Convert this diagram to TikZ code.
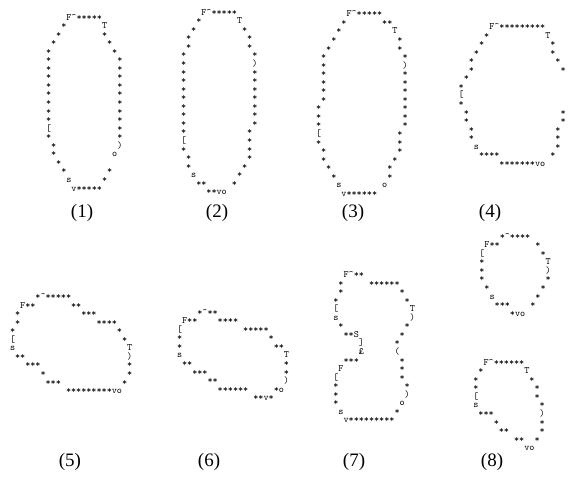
\documentclass[tikz,border=0pt]{standalone}
\usepackage{fontspec}
\setmainfont{Liberation Serif}
\newcommand\caret{\textasciicircum}
\newcommand\gap[1]{\hskip#1\dimexpr0.525em\relax\relax}
\tikzset{
  artrow/.style={font=\fontsize{9.7}{9.7}\selectfont\ttfamily,inner sep=0pt,anchor=base west},
  tag/.style={font=\fontsize{19}{19}\selectfont,inner sep=0pt}
}
\begin{document}
\begin{tikzpicture}[x=1pt,y=-1pt]
\useasboundingbox (0,0) rectangle (568,482);
% outline 1
\foreach \row [count=\i from 0] in {
  \gap{4}F\caret*****,
  \gap{3}*\gap{7}T,
  \gap{2}*\gap{8}*,
  \gap{1}*\gap{10}*,
  *\gap{12}*,
  *\gap{13}*,*\gap{13}*,*\gap{13}*,*\gap{13}*,
  *\gap{13}*,*\gap{13}*,*\gap{13}*,*\gap{13}*,
  [\gap{13}*,
  *\gap{13}*,
  \gap{1}*\gap{12}),
  \gap{1}*\gap{11}o,
  \gap{2}*,
  \gap{3}*\gap{8}*,
  \gap{4}s\gap{6}*,
  \gap{5}v*****}
  \node[artrow] (one\i) at (45.8,20+\i*8.55) {\row};
% outline 2
\foreach \row [count=\i from 0] in {
  \gap{4}F\caret*****,
  \gap{3}*\gap{7}T,
  \gap{2}*\gap{9}*,
  \gap{1}*\gap{11}*,
  \gap{1}*\gap{11}*,
  *\gap{13}*,
  *\gap{13}),
  *\gap{13}*,*\gap{13}*,*\gap{13}*,*\gap{13}*,
  *\gap{13}*,*\gap{13}*,*\gap{13}*,
  *\gap{12}*,
  [\gap{12}*,
  *\gap{12}*,
  \gap{1}*\gap{11}*,
  \gap{1}*\gap{10}*,
  \gap{2}s\gap{8}*,
  \gap{3}**\gap{5}*,
  \gap{5}**vo}
  \node[artrow] (two\i) at (180.8,15.2+\i*8.55) {\row};
% outline 3
\foreach \row [count=\i from 0] in {
  \gap{6}F\caret*****,
  \gap{5}*\gap{7}**,
  \gap{4}*\gap{10}T,
  \gap{3}*\gap{12}*,
  \gap{2}*\gap{13}*,
  \gap{1}*\gap{15}*,
  \gap{1}*\gap{15}),
  \gap{1}*\gap{15}*,\gap{1}*\gap{15}*,\gap{1}*\gap{15}*,\gap{1}*\gap{15}*,
  *\gap{16}*,*\gap{16}*,*\gap{16}*,
  [\gap{15}*,
  *\gap{15}*,
  \gap{1}*\gap{14}*,
  \gap{1}*\gap{13}*,
  \gap{2}*\gap{11}*,
  \gap{3}*\gap{10}*,
  \gap{4}s\gap{8}o,
  \gap{5}v******}
  \node[artrow] (three\i) at (315.8,16.8+\i*8.55) {\row};
% outline 4
\foreach \row [count=\i from 0] in {
  \gap{6}F\caret*********,
  \gap{5}*\gap{11}T,
  \gap{4}*\gap{13}*,
  \gap{3}*\gap{14}*,
  \gap{2}*\gap{16}*,
  \gap{2}*\gap{17}*,
  \gap{1}*,
  *,
  [,
  *,
  \gap{1}*\gap{18}*,
  \gap{1}*\gap{18}*,
  \gap{2}*\gap{16}*,
  \gap{2}*\gap{16}*,
  \gap{3}s\gap{15}*,
  \gap{4}****\gap{10}*,
  \gap{8}*******vo}
  \node[artrow] (four\i) at (458.5,29.5+\i*8.55) {\row};
% outline 5
\foreach \row [count=\i from 0] in {
  \gap{5}*\caret*****,
  \gap{2}F**\gap{7}**,
  \gap{1}*\gap{12}***,
  \gap{1}*\gap{15}****,
  *\gap{20}*,
  [\gap{21}*,
  s\gap{22}T,
  \gap{1}**\gap{20}),
  \gap{3}***\gap{17}*,
  \gap{6}*\gap{16}*,
  \gap{7}***\gap{12}*,
  \gap{11}*********vo}
  \node[artrow] (five\i) at (9.8,299.5+\i*8.55) {\row};
% outline 6
\foreach \row [count=\i from 0] in {
  \gap{4}*\caret**,
  \gap{1}F**\gap{4}****,
  [\gap{12}*****,
  *\gap{17}*,
  *\gap{18}**,
  s\gap{20}T,
  \gap{1}**\gap{18}*,
  \gap{3}***\gap{15}*,
  \gap{6}**\gap{13}),
  \gap{8}******\gap{5}*o,
  \gap{15}**v*}
  \node[artrow] (six\i) at (176.8,315.2+\i*8.55) {\row};
% outline 7
\foreach \row [count=\i from 0] in {
  \gap{2}F\caret**,
  \gap{1}*\gap{5}******,
  \gap{1}*\gap{11}*,
  *\gap{13}*,
  [\gap{14}T,
  s\gap{14}),
  \gap{1}*\gap{12}*,
  \gap{2}**S\gap{8}*,
  \gap{5}]\gap{6}*,
  \gap{5}£\gap{6}(,
  \gap{2}***\gap{8}*,
  \gap{1}F\gap{11}*,
  [\gap{12}*,
  *\gap{13}*,
  *\gap{13}),
  *\gap{12}o,
  \gap{1}s\gap{10}*,
  \gap{2}v*********}
  \node[artrow] (seven\i) at (333.2,277.5+\i*8.55) {\row};
% outline 8, upper
\foreach \row [count=\i from 0] in {
  \gap{4}*\caret****,
  \gap{1}F**\gap{7}*,
  [\gap{11}*,
  *\gap{12}T,
  *\gap{12}),
  *\gap{12}*,
  \gap{1}*\gap{10}*,
  \gap{2}s\gap{8}*,
  \gap{3}***\gap{4}*,
  \gap{6}*vo}
  \node[artrow] (eightA\i) at (479.2,239.2+\i*8.55) {\row};
% outline 8, lower
\foreach \row [count=\i from 0] in {
  \gap{2}F\caret******,
  \gap{1}*\gap{8}T,
  *\gap{10}*,
  *\gap{11}*,
  [\gap{11}*,
  s\gap{12}*,
  \gap{1}***\gap{9}),
  \gap{4}*\gap{8}*,
  \gap{5}**\gap{6}*,
  \gap{8}**\gap{2}*,
  \gap{10}vo}
  \node[artrow] (eightB\i) at (473.2,365.2+\i*8.55) {\row};
% captions
\node[tag] (lab1) at (82,213) {(1)};
\node[tag] (lab2) at (217,213) {(2)};
\node[tag] (lab3) at (353,213) {(3)};
\node[tag] (lab4) at (490,213) {(4)};
\node[tag] (lab5) at (70,462) {(5)};
\node[tag] (lab6) at (209,462) {(6)};
\node[tag] (lab7) at (354,462) {(7)};
\node[tag] (lab8) at (492,462) {(8)};
\end{tikzpicture}
\end{document}
